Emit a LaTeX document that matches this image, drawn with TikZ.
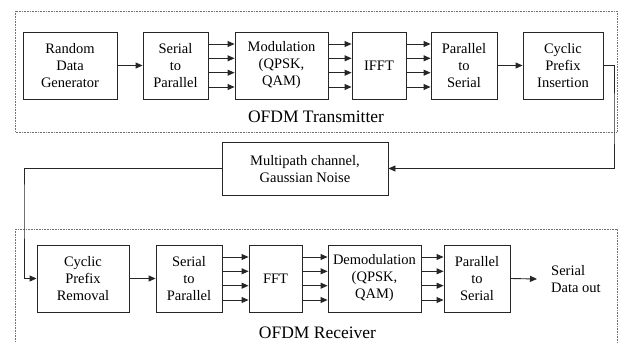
\documentclass[tikz,border=0pt]{standalone}
\usepackage{fontspec}
\setmainfont{Liberation Serif}
\usetikzlibrary{arrows.meta}
\begin{document}
\begin{tikzpicture}[x=1pt,y=-1pt,
  blk/.style={draw=black!85,line width=0.9pt,align=center,inner sep=1pt,
    font=\fontsize{14.5}{17}\selectfont,minimum height=67pt},
  arr/.style={draw=black!85,line width=0.9pt,-{Triangle[length=7pt,width=6pt]}},
  frame/.style={draw=black!55,line width=0.6pt,densely dotted},
  lbl/.style={font=\fontsize{17.5}{20}\selectfont,inner sep=0pt}]
\clip (0,0) rectangle (622,343);
\fill[white] (0,0) rectangle (622,343);
% frames
\draw[frame] (15,11) rectangle (617,132);
\draw[frame] (15,229) rectangle (617,360);
% top row
\node[blk,minimum width=94pt] (rdg) at (70,65.5) {Random\\Data\\Generator};
\node[blk,minimum width=65pt] (sp1) at (175.5,65.5) {Serial\\to\\Parallel};
\node[blk,minimum width=93pt] (mod) at (281.5,65.5) {Modulation\\(QPSK,\\QAM)};
\node[blk,minimum width=54pt] (ifft) at (379,65.5) {IFFT};
\node[blk,minimum width=66pt] (ps1) at (464,65.5) {Parallel\\to\\Serial};
\node[blk,minimum width=80pt] (cpi) at (563,65.5) {Cyclic\\Prefix\\Insertion};
\node[lbl] (tx) at (316,117) {OFDM Transmitter};
% channel
\node[blk,minimum width=166pt,minimum height=53pt,text depth=0pt] (mp) at (305,168.5) {Multipath channel,\\Gaussian Noise};
\coordinate (c0) at (614,120);
\coordinate (c1) at (24,200);
% bottom row
\node[blk,minimum width=92pt] (cpr) at (83,278.5) {Cyclic\\Prefix\\Removal};
\node[blk,minimum width=66pt] (sp2) at (189,278.5) {Serial\\to\\Parallel};
\node[blk,minimum width=53pt] (fft) at (275.5,278.5) {FFT};
\node[blk,minimum width=93pt] (dem) at (374.5,278.5) {Demodulation\\(QPSK,\\QAM)};
\node[blk,minimum width=66pt] (ps2) at (477,278.5) {Parallel\\to\\Serial};
\node[font=\fontsize{14.5}{17}\selectfont,align=left,anchor=west,inner sep=0pt] (out) at (551,279) {Serial\\Data out};
\node[lbl] (rx) at (317.5,333) {OFDM Receiver};
% connectors
\draw[arr] (rdg) -- (sp1);
\draw[arr] (ps1) -- (cpi);
\draw[arr] (cpr) -- (sp2);
\draw[arr] (ps2.east) -- ([xshift=-14pt]out.west);
\foreach \a/\b in {sp1/mod,mod/ifft,ifft/ps1,sp2/fft,fft/dem,dem/ps2}{
  \foreach \o in {-21.5,-7.2,7.2,21.5}{
    \draw[arr] ([yshift=-\o pt]\a.east) -- ([yshift=-\o pt]\b.west);
  }
}
\draw[arr] (cpi.east) -| (c0) |- (mp.east);
\draw[arr] (mp.west) -| (c1) |- (cpr.west);
\end{tikzpicture}
\end{document}
